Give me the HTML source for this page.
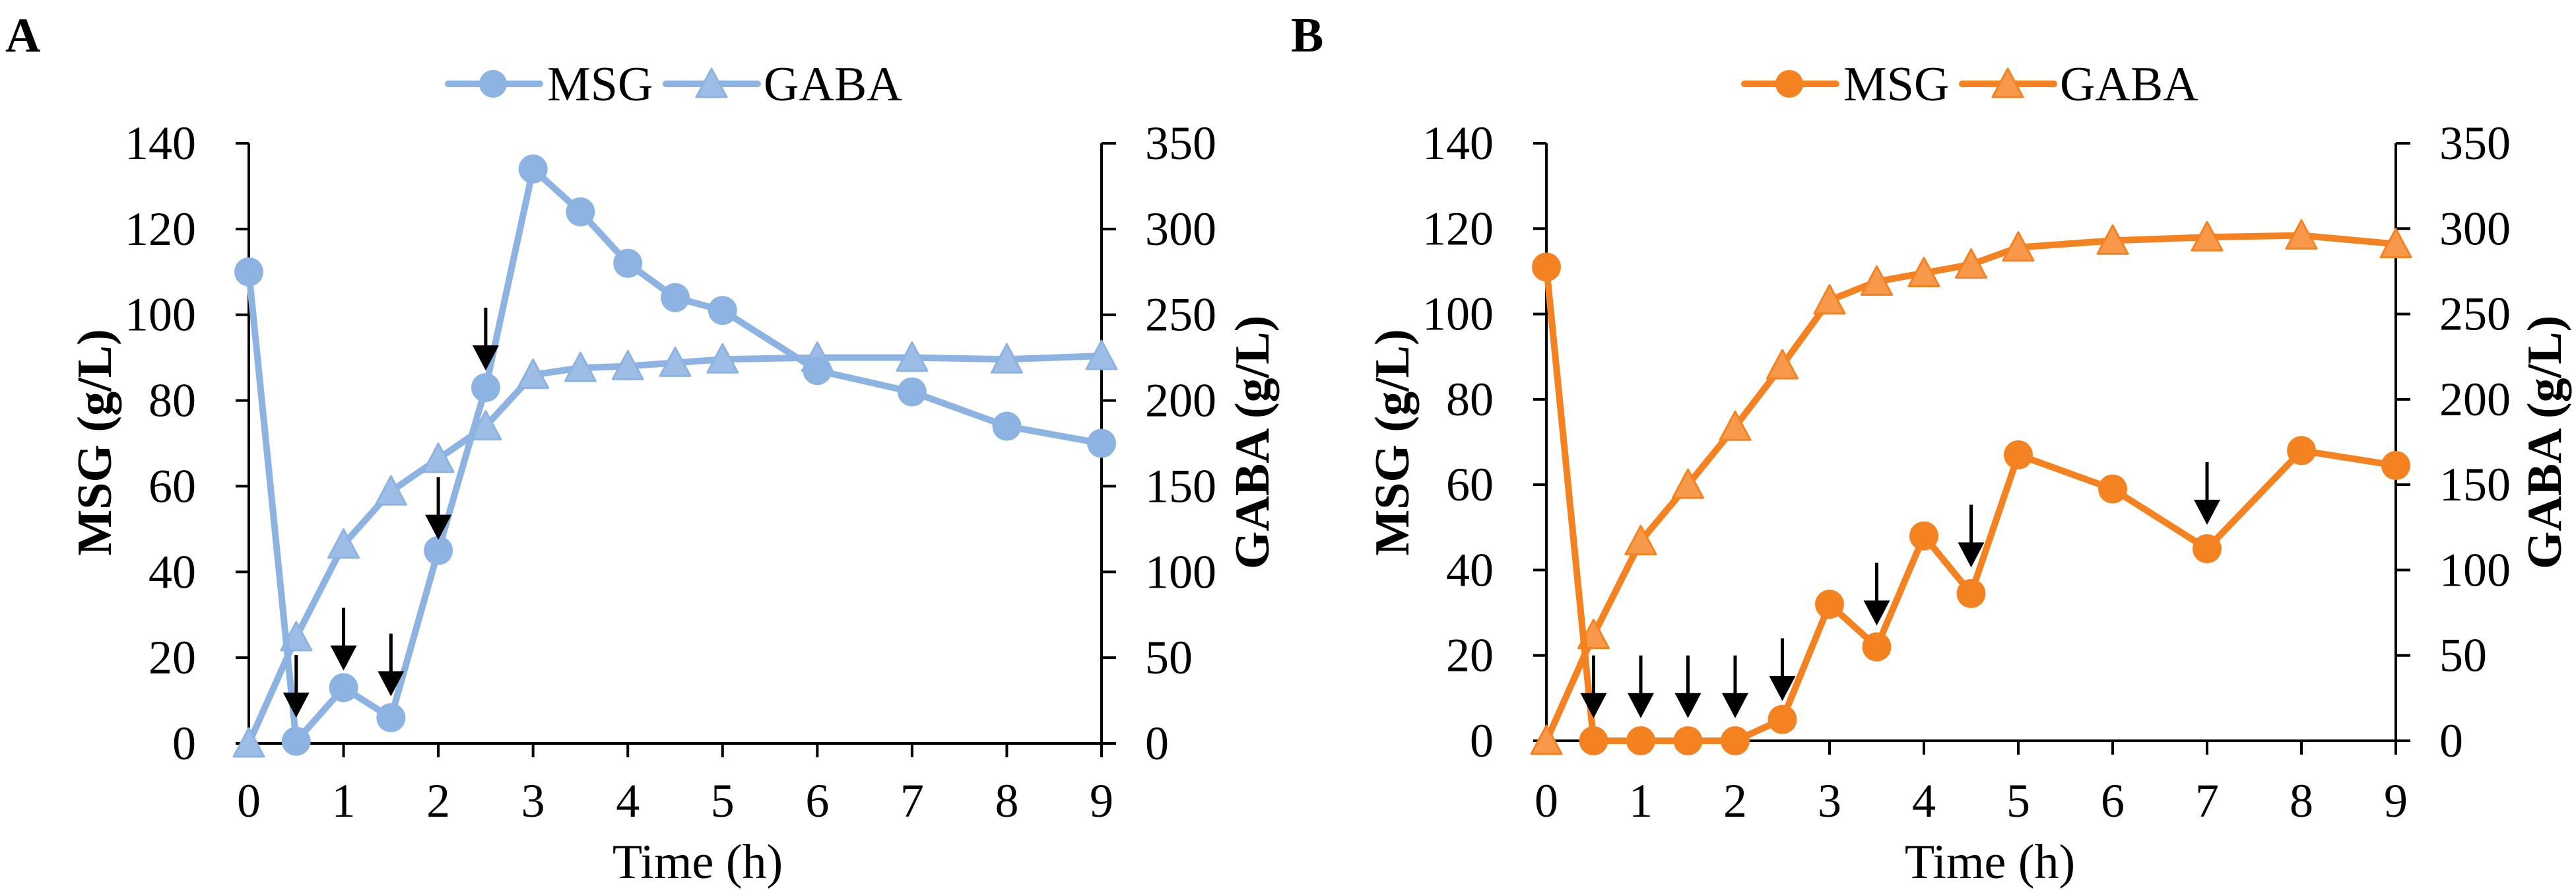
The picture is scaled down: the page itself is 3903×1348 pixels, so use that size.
<!DOCTYPE html>
<html><head><meta charset="utf-8"><style>
html,body{margin:0;padding:0;background:#fff;}
svg{display:block;}
svg text{font-family:"Liberation Serif","Times New Roman",serif;}
</style></head><body>
<svg id="chart" width="3903" height="1348" viewBox="0 0 3903 1348" xmlns="http://www.w3.org/2000/svg" font-family="Liberation Serif, serif"></svg>
<script>
const times = [0,0.5,1,1.5,2,2.5,3,3.5,4,4.5,5,6,7,8,9];
const msgA = [110,0.5,13,6,45,83,134,124,112,104,101,87,82,74,70];
const gabaA = [0,62,116,147,166,185,215,219,220,222,224,225,225,224,226];
const arrowTimesA = [0.5,1,1.5,2,2.5];
const arrowTipsA = [6,17,11,47.5,87];
const msgB = [111,0,0,0,0,5,32,22,48,34.5,67,59,45,68,64.5];
const gabaB = [0,62,117,150,184,220,258,269,274,279,289,293,295,296,291];
const arrowTimesB = [0.5,1,1.5,2,2.5,3.5,4.5,7];
const arrowTipsB = [5.3,5.3,5.3,5.3,9.3,27,40.6,50.6];
const xTicks = [0,1,2,3,4,5,6,7,8,9];
const msgTicks = [0,20,40,60,80,100,120,140];
const gabaTicks = [0,50,100,150,200,250,300,350];

const NS="http://www.w3.org/2000/svg";
const svg=document.getElementById('chart');
function mk(tag,attrs,parent,text){const e=document.createElementNS(NS,tag);for(const k in attrs)e.setAttribute(k,attrs[k]);if(text!==undefined){e.textContent=text;e.setAttribute('font-family','Liberation Serif, serif');}(parent||svg).appendChild(e);return e;}

function panel(p){
  const g=mk('g',{});
  
  
  const X=t=>p.x0+(p.x9-p.x0)*t/9;
  const YL=v=>p.y0-(p.y0-p.yt)*v/140;
  const YR=v=>p.y0-(p.y0-p.yt)*v/350;
  const lbl=mk('text',{x:p.titleX,y:78,'font-size':74,'font-weight':'bold'},g,p.id);
  
  const ax=mk('g',{stroke:'#000','stroke-width':4,fill:'none'},g);
  
  mk('line',{x1:p.x0,y1:p.yt,x2:p.x0,y2:p.y0},ax);
  mk('line',{x1:p.x9,y1:p.yt,x2:p.x9,y2:p.y0},ax);
  mk('line',{x1:p.x0-20,y1:p.y0,x2:p.x9,y2:p.y0},ax);
  msgTicks.forEach(v=>{mk('line',{x1:p.x0-20,y1:YL(v),x2:p.x0,y2:YL(v)},ax);
    const t=mk('text',{x:p.x0-80,y:YL(v)+24,'font-size':72,'text-anchor':'end'},g,v);
    });
  gabaTicks.forEach(v=>{mk('line',{x1:p.x9,y1:YR(v),x2:p.x9+22,y2:YR(v)},ax);
    const t=mk('text',{x:p.x9+66,y:YR(v)+24,'font-size':72},g,v);
    });
  xTicks.forEach(v=>{mk('line',{x1:X(v),y1:p.y0,x2:X(v),y2:p.y0+21},ax);
    const t=mk('text',{x:X(v),y:1237,'font-size':72,'text-anchor':'middle'},g,v);
    });
  let t=mk('text',{x:p.timeX,y:1330,'font-size':74,'text-anchor':'middle'},g,'Time (h)');
  
  t=mk('text',{transform:`translate(${p.msgX},670) rotate(-90)`,'font-size':74,'font-weight':'bold','text-anchor':'middle'},g,'MSG (g/L)');
  
  t=mk('text',{transform:`translate(${p.gabaX},670) rotate(-90)`,'font-size':74,'font-weight':'bold','text-anchor':'middle'},g,'GABA (g/L)');
  
  const tri=(cx,cy,par)=>mk('polygon',{points:`${cx},${cy-23} ${cx-23},${cy+20} ${cx+23},${cy+20}`,fill:p.light,stroke:p.col,'stroke-width':3,'stroke-linejoin':'round'},par);
  const gg=mk('g',{},g);
  mk('polyline',{points:times.map((tt,i)=>X(tt)+','+YR(p.gaba[i])).join(' '),fill:'none',stroke:p.col,'stroke-width':10,'stroke-linejoin':'round'},gg);
  times.forEach((tt,i)=>{const m=tri(X(tt),YR(p.gaba[i]),gg);});
  const mg=mk('g',{},g);
  mk('polyline',{points:times.map((tt,i)=>X(tt)+','+YL(p.msg[i])).join(' '),fill:'none',stroke:p.col,'stroke-width':10,'stroke-linejoin':'round'},mg);
  times.forEach((tt,i)=>{const m=mk('circle',{cx:X(tt),cy:YL(p.msg[i]),r:22,fill:p.col},mg);});
  p.at.forEach((tt,i)=>{const ag=mk('g',{},g);
    
    const x=X(tt),y=YL(p.atip[i]);
    mk('line',{x1:x,y1:y-95,x2:x,y2:y-30,stroke:'#000','stroke-width':5},ag);
    mk('polygon',{points:`${x-20},${y-38} ${x+20},${y-38} ${x},${y}`,fill:'#000'},ag);});
  const L=p.leg;
  const lg=mk('g',{},g);
  mk('line',{x1:L,y1:127,x2:L+139,y2:127,stroke:p.col,'stroke-width':10,'stroke-linecap':'round'},lg);
  mk('circle',{cx:L+68,cy:127,r:21,fill:p.col},lg);
  mk('text',{x:L+150,y:152,'font-size':74},lg,'MSG');
  mk('line',{x1:L+330,y1:127,x2:L+469,y2:127,stroke:p.col,'stroke-width':10,'stroke-linecap':'round'},lg);
  tri(L+399,127,lg);
  mk('text',{x:L+478,y:152,'font-size':74},lg,'GABA');
}
panel({id:'A',x0:377,x9:1669,yt:217,y0:1126,col:'#8DB3E2',light:'#9DBDE6',msg:msgA,gaba:gabaA,at:arrowTimesA,atip:arrowTipsA,titleX:8,timeX:1057,msgX:168,gabaX:1922,leg:679});
panel({id:'B',x0:2343,x9:3630,yt:217,y0:1122,col:'#F58220',light:'#F7984A',msg:msgB,gaba:gabaB,at:arrowTimesB,atip:arrowTipsB,titleX:1956,timeX:3015,msgX:2134,gabaX:3880,leg:2643});
</script>
</body></html>
